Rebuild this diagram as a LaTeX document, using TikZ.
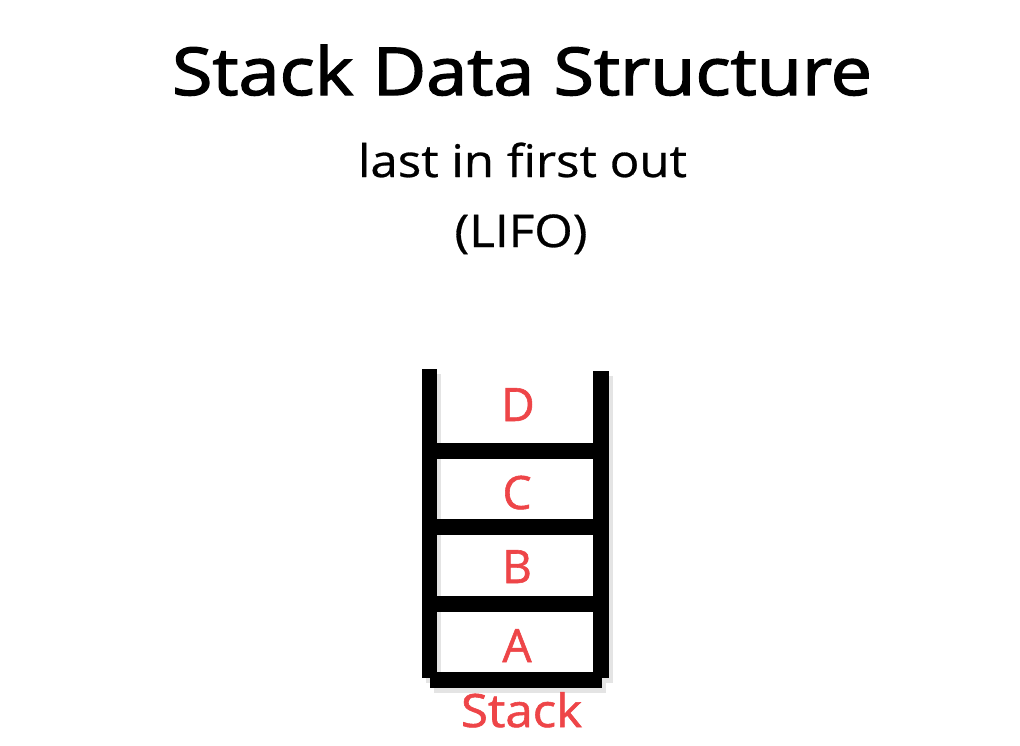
\documentclass[tikz,border=0pt]{standalone}
\usepackage{fontspec}
\usepackage{graphicx}
\setmainfont{Open Sans}
\newfontfamily\titlef[FakeBold=2]{Open Sans}
\newfontfamily\subf[FakeBold=0.6]{Open Sans}
\newfontfamily\itemf[FakeBold=1.2]{Open Sans}
\newcommand{\fitw}[2]{\resizebox{#1}{\height}{#2}}
\definecolor{stackred}{HTML}{EE4548}
\definecolor{shade}{HTML}{E4E4E4}
\begin{document}
\begin{tikzpicture}[x=1pt,y=-1pt,
  title/.style={font=\titlef\fontsize{66}{70}\selectfont, text=black, inner sep=0pt, anchor=base},
  sub/.style={font=\subf\fontsize{45}{48}\selectfont, text=black, inner sep=0pt, anchor=base},
  item/.style={font=\itemf\fontsize{46}{50}\selectfont, text=stackred, inner sep=0pt, anchor=base},
  wall/.style={fill=black, draw=none},
  wallshade/.style={fill=shade, draw=none}]
\useasboundingbox[fill=white] (0,0) rectangle (1020,745);
% title texts
\node[title] (t) at (522,95) {\fitw{700pt}{Stack Data Structure}};
\node[sub] (s1) at (522.5,177) {\fitw{329pt}{last in first out}};
\node[sub] (s2) at (521,247) {\fitw{133pt}{(LIFO)}};
% stack shadow
\fill[wallshade] (426,374) rectangle (441,683);
\fill[wallshade] (597,376) rectangle (613,683);
\fill[wallshade] (434,677) rectangle (606,693);
% stack walls
\fill[wall] (422,369) rectangle (437,678);
\fill[wall] (593,371) rectangle (609,678);
\fill[wall] (430,672) rectangle (602,688);
% dividers
\fill[wall] (422,443) rectangle (609,459);
\fill[wall] (422,519) rectangle (609,535);
\fill[wall] (422,596) rectangle (609,612);
% items
\node[item] (d) at (518,421) {D};
\node[item] (c) at (517,509) {C};
\node[item] (b) at (517,583) {B};
\node[item] (a) at (517,662) {A};
\node[item] (st) at (521.5,727) {\fitw{121pt}{Stack}};
\end{tikzpicture}
\end{document}
